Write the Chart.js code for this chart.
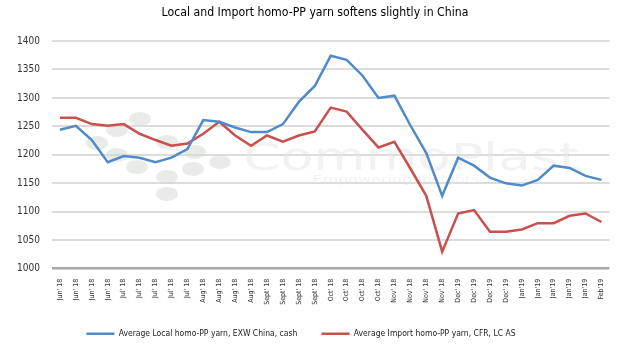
<!DOCTYPE html>
<html>
<head>
  <meta charset="utf-8">
  <title>Local and Import homo-PP yarn</title>
  <script src="https://cdn.jsdelivr.net/npm/chart.js@4.4.1/dist/chart.umd.min.js"></script>
  <style>
    html, body { margin: 0; padding: 0; background: #fff; }
    #wrap { width: 620px; height: 348px; }
  </style>
</head>
<body>
<div id="wrap"><canvas id="yarnChart" width="620" height="348"></canvas></div>

<script>
// Weekly price assessments, Jun 2018 - Feb 2019 (USD/ton)
const weeks = [
  "Jun' 18", "Jun' 18", "Jun' 18", "Jun' 18",
  "Jul' 18", "Jul' 18", "Jul' 18", "Jul' 18", "Jul' 18",
  "Aug' 18", "Aug' 18", "Aug' 18", "Aug' 18",
  "Sept' 18", "Sept' 18", "Sept' 18", "Sept' 18",
  "Oct' 18", "Oct' 18", "Oct' 18", "Oct' 18",
  "Nov' 18", "Nov' 18", "Nov' 18", "Nov' 18",
  "Dec' 19", "Dec' 19", "Dec' 19", "Dec' 19",
  "Jan'19", "Jan'19", "Jan'19", "Jan'19", "Jan'19",
  "Feb'19"
];

const localExw = [
  1244, 1251, 1226, 1187, 1198, 1195, 1187, 1195, 1210,
  1261, 1258, 1248, 1240, 1240, 1254, 1293, 1321,
  1374, 1367, 1339, 1300, 1304, 1252, 1203, 1128,
  1195, 1181, 1160, 1150, 1146, 1156, 1181, 1177, 1163, 1156
];

const importCfr = [
  1265, 1265, 1254, 1251, 1254, 1237, 1226, 1216, 1220,
  1237, 1258, 1234, 1216, 1234, 1223, 1234, 1241,
  1283, 1276, 1244, 1213, 1223, 1176, 1128, 1030,
  1097, 1103, 1065, 1065, 1069, 1080, 1080, 1093, 1097, 1082
];

const yTicks = { min: 1000, max: 1400, step: 50 };

const condensed = '"DejaVu Sans Condensed", "DejaVu Sans", sans-serif';

// faint company logo behind the lines
const watermark = {
  id: 'watermark',
  beforeDatasetsDraw(chart) {
    const ctx = chart.ctx;
    ctx.save();
    ctx.fillStyle = 'rgba(215, 219, 215, 0.55)';
    const dots = [
      [140, 119], [117, 130], [97, 143], [117, 155], [137, 167],
      [167, 142], [195, 152], [193, 169], [167, 177], [167, 194], [220, 162]
    ];
    dots.forEach(([x, y]) => {
      ctx.beginPath();
      ctx.ellipse(x, y, 11, 7, 0, 0, Math.PI * 2);
      ctx.fill();
    });
    ctx.fillStyle = 'rgba(225, 227, 225, 0.45)';
    ctx.textBaseline = 'alphabetic';
    ctx.translate(243, 170);
    ctx.scale(1.45, 1);
    ctx.font = '37px "DejaVu Sans", sans-serif';
    ctx.fillText('CommoPlast', 0, 0);
    ctx.font = '11px "DejaVu Sans", sans-serif';
    ctx.fillText('Empowering Insights', 48, 13);
    ctx.restore();
  }
};

// title sits a little right of the canvas centre, legend a little left
const boxShift = {
  id: 'boxShift',
  afterLayout(chart) {
    chart.titleBlock.left += 10;
    chart.titleBlock.right += 10;
    chart.legend.left -= 4;
    chart.legend.right -= 4;
  }
};

new Chart(document.getElementById('yarnChart'), {
  type: 'line',
  data: {
    labels: weeks,
    datasets: [{
      label: 'Average Local homo-PP yarn, EXW China, cash',
      data: localExw,
      borderColor: '#4f8bc9',
      backgroundColor: '#4f8bc9',
      borderWidth: 2.5,
      pointRadius: 0,
      tension: 0
    }, {
      label: 'Average Import homo-PP yarn, CFR, LC AS',
      data: importCfr,
      borderColor: '#c9504c',
      backgroundColor: '#c9504c',
      borderWidth: 2.5,
      pointRadius: 0,
      tension: 0
    }]
  },
  options: {
    responsive: false,
    animation: false,
    layout: { padding: { left: 0, right: 10, top: 0, bottom: 0 } },
    plugins: {
      title: {
        display: true,
        text: 'Local and Import homo-PP yarn softens slightly in China',
        color: '#000',
        font: { family: condensed, size: 12.2, weight: 'normal' },
        padding: { top: 6, bottom: 20.36 }
      },
      legend: {
        position: 'bottom',
        labels: {
          color: '#222',
          font: { family: condensed, size: 8.5 },
          usePointStyle: true,
          pointStyle: 'line',
          pointStyleWidth: 28,
          padding: 24.3
        }
      },
      tooltip: { enabled: false }
    },
    scales: {
      x: {
        offset: true,
        grid: { display: false, drawTicks: false },
        border: { display: false },
        ticks: {
          autoSkip: false,
          maxRotation: 90,
          minRotation: 90,
          padding: 10,
          color: '#333',
          font: { family: condensed, size: 7 }
        },
        afterFit(scale) { scale.height = 36.5; }
      },
      y: {
        min: yTicks.min,
        max: yTicks.max,
        border: { display: false },
        grid: {
          drawTicks: false,
          lineWidth: ctx => ctx.tick.value === yTicks.min ? 2.5 : 2,
          color: ctx => ctx.tick.value === yTicks.min ? '#a6a6a6' : '#dcdcdc'
        },
        ticks: {
          stepSize: yTicks.step,
          padding: 12,
          color: '#333',
          font: { family: condensed, size: 10 },
          callback: v => String(v)
        },
        afterFit(scale) { scale.width = 52; }
      }
    }
  },
  plugins: [watermark, boxShift]
});
</script>
</body>
</html>
